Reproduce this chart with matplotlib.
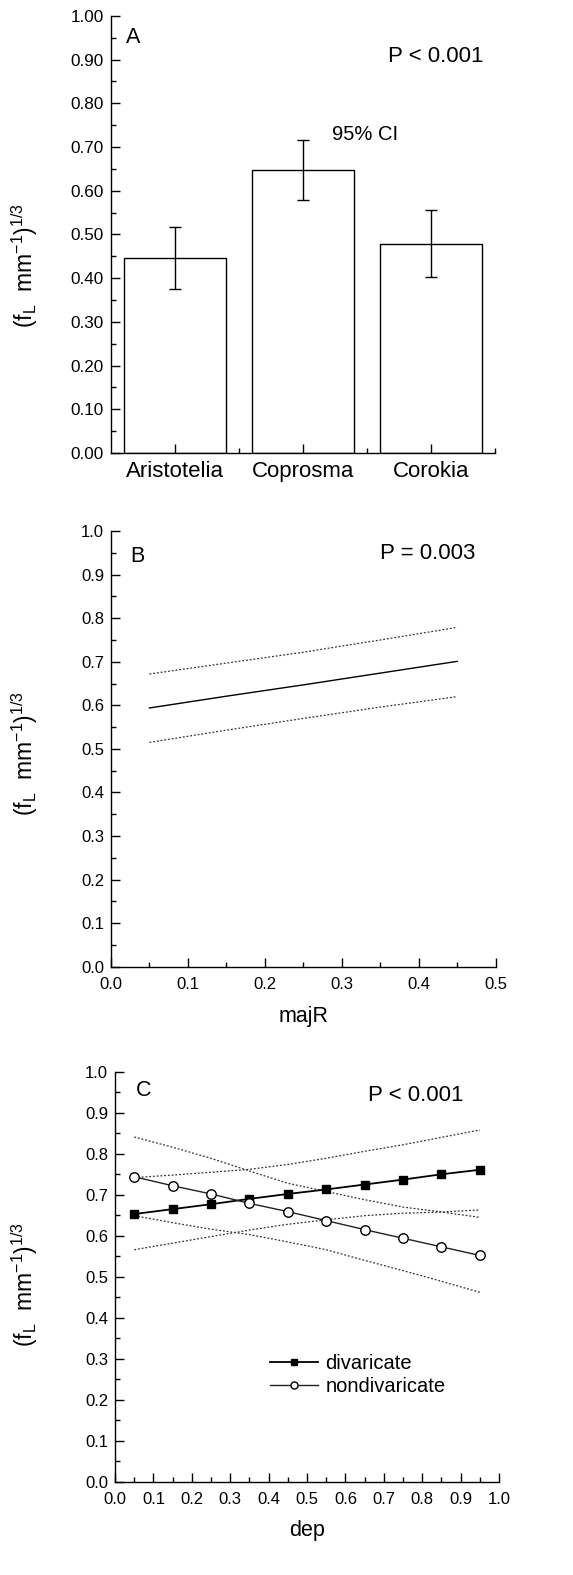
import matplotlib
matplotlib.use("Agg")
import matplotlib.pyplot as plt
from matplotlib.ticker import MultipleLocator, FormatStrFormatter, FixedLocator
import numpy as np

plt.rcParams["font.family"] = ["Liberation Sans", "DejaVu Sans"]
plt.rcParams["mathtext.fontset"] = "custom"
plt.rcParams["mathtext.rm"] = "Liberation Sans"

# panel A: genus means with 95% CI
genera = ["Aristotelia", "Coprosma", "Corokia"]
genus_mean = [0.447, 0.648, 0.479]
genus_lo = [0.376, 0.578, 0.403]
genus_hi = [0.516, 0.717, 0.555]

# panel B: fitted line vs majR with CI
majr = [0.05, 0.15, 0.25, 0.35, 0.45]
majr_fit = [0.594, 0.621, 0.647, 0.674, 0.701]
majr_upper = [0.672, 0.697, 0.722, 0.750, 0.779]
majr_lower = [0.515, 0.543, 0.570, 0.596, 0.620]

# panel C: fits vs dep for both groups with CI
dep = [0.05, 0.15, 0.25, 0.35, 0.45, 0.55, 0.65, 0.75, 0.85, 0.95]
div_fit = [0.653, 0.665, 0.677, 0.690, 0.702, 0.713, 0.725, 0.737, 0.750, 0.761]
div_upper = [0.742, 0.748, 0.755, 0.762, 0.774, 0.789, 0.806, 0.822, 0.840, 0.858]
div_lower = [0.566, 0.582, 0.598, 0.614, 0.628, 0.639, 0.649, 0.655, 0.658, 0.663]
nondiv_fit = [0.744, 0.722, 0.702, 0.679, 0.659, 0.637, 0.615, 0.594, 0.573, 0.552]
nondiv_upper = [0.841, 0.816, 0.789, 0.758, 0.728, 0.708, 0.688, 0.670, 0.658, 0.645]
nondiv_lower = [0.649, 0.632, 0.616, 0.603, 0.585, 0.566, 0.540, 0.515, 0.489, 0.462]

ylab = r"(f$_\mathregular{L}$  mm$^\mathregular{-1}$)$^\mathregular{1/3}$"


def style_axes(ax, tick_size, xpad):
    for side in ("top", "right"):
        ax.spines[side].set_visible(False)
    for side in ("left", "bottom"):
        ax.spines[side].set_linewidth(1.0)
    ax.tick_params(which="major", direction="in", length=6.5, width=1.0,
                   labelsize=tick_size)
    ax.tick_params(which="minor", direction="in", length=3.8, width=1.0)
    ax.tick_params(axis="y", pad=5)
    ax.tick_params(axis="x", pad=xpad)
    ax.set_ylim(0, 1.0)
    ax.yaxis.set_major_locator(MultipleLocator(0.1))
    ax.yaxis.set_minor_locator(MultipleLocator(0.05))


fig = plt.figure(figsize=(5.73, 15.75), dpi=100)

# ---- A
axA = fig.add_axes([0.1937, 0.7124, 0.6702, 0.2775])
style_axes(axA, 12.3, 6)
xpos = np.arange(1, len(genera) + 1)
yerr = [np.array(genus_mean) - np.array(genus_lo), np.array(genus_hi) - np.array(genus_mean)]
axA.bar(xpos, genus_mean, width=0.8, color="white", edgecolor="black", linewidth=1.0)
axA.errorbar(xpos, genus_mean, yerr=yerr, fmt="none", ecolor="black", elinewidth=1.0,
             capsize=4.5, capthick=1.0)
axA.set_xlim(0.5, 3.5)
axA.xaxis.set_major_locator(FixedLocator(xpos))
axA.xaxis.set_minor_locator(FixedLocator([1.5, 2.5, 3.5]))
axA.set_xticklabels(genera, fontsize=16)
axA.yaxis.set_major_formatter(FormatStrFormatter("%.2f"))
axA.set_ylabel(ylab, fontsize=16.5)
axA.yaxis.set_label_coords(-0.185, 0.43)
axA.text(0.62, 0.95, "A", fontsize=15.5, ha="left", va="center")
axA.text(2.667, 0.907, "P < 0.001", fontsize=16, ha="left", va="center")
axA.text(2.224, 0.728, "95% CI", fontsize=14.5, ha="left", va="center")

# ---- B
axB = fig.add_axes([0.1937, 0.3862, 0.6714, 0.2766])
style_axes(axB, 12, 7.5)
axB.plot(majr, majr_fit, color="black", lw=1.0)
axB.plot(majr, majr_upper, color="#333333", lw=0.9, ls=(0, (1.5, 1.5)))
axB.plot(majr, majr_lower, color="#333333", lw=0.9, ls=(0, (1.5, 1.5)))
axB.set_xlim(0, 0.5)
axB.xaxis.set_major_locator(MultipleLocator(0.1))
axB.xaxis.set_minor_locator(MultipleLocator(0.05))
axB.xaxis.set_major_formatter(FormatStrFormatter("%.1f"))
axB.yaxis.set_major_formatter(FormatStrFormatter("%.1f"))
axB.set_xlabel("majR", fontsize=15.5, labelpad=10)
axB.set_ylabel(ylab, fontsize=16.5)
axB.yaxis.set_label_coords(-0.185, 0.49)
axB.text(0.0247, 0.941, "B", fontsize=15.5, ha="left", va="center")
axB.text(0.35, 0.9487, "P = 0.003", fontsize=16, ha="left", va="center")

# ---- C
axC = fig.add_axes([0.2007, 0.0592, 0.6702, 0.2603])
style_axes(axC, 12, 7.5)
for ci in (div_upper, div_lower, nondiv_upper, nondiv_lower):
    axC.plot(dep, ci, color="#333333", lw=0.9, ls=(0, (1.5, 1.5)))
axC.plot(dep, div_fit, color="black", lw=1.3, marker="s", ms=6.3,
         mfc="black", mec="black", label="divaricate")
axC.plot(dep, nondiv_fit, color="#222222", lw=1.0, marker="o", ms=6.8,
         mfc="white", mec="black", mew=1.0, label="nondivaricate")
axC.set_xlim(0, 1.0)
axC.xaxis.set_major_locator(MultipleLocator(0.1))
axC.xaxis.set_minor_locator(MultipleLocator(0.05))
axC.xaxis.set_major_formatter(FormatStrFormatter("%.1f"))
axC.yaxis.set_major_formatter(FormatStrFormatter("%.1f"))
axC.set_xlabel("dep", fontsize=15.5, labelpad=9.5)
axC.set_ylabel(ylab, fontsize=16.5)
axC.yaxis.set_label_coords(-0.195, 0.48)
axC.text(0.055, 0.955, "C", fontsize=15.5, ha="left", va="center")
axC.text(0.66, 0.943, "P < 0.001", fontsize=16, ha="left", va="center")
axC.legend(loc="upper left", bbox_to_anchor=(0.404, 0.312), frameon=False,
           fontsize=14.5, handlelength=2.4, handletextpad=0.35,
           labelspacing=0.2, borderpad=0, borderaxespad=0, markerscale=0.75)

fig.savefig("out.png", dpi=100)
